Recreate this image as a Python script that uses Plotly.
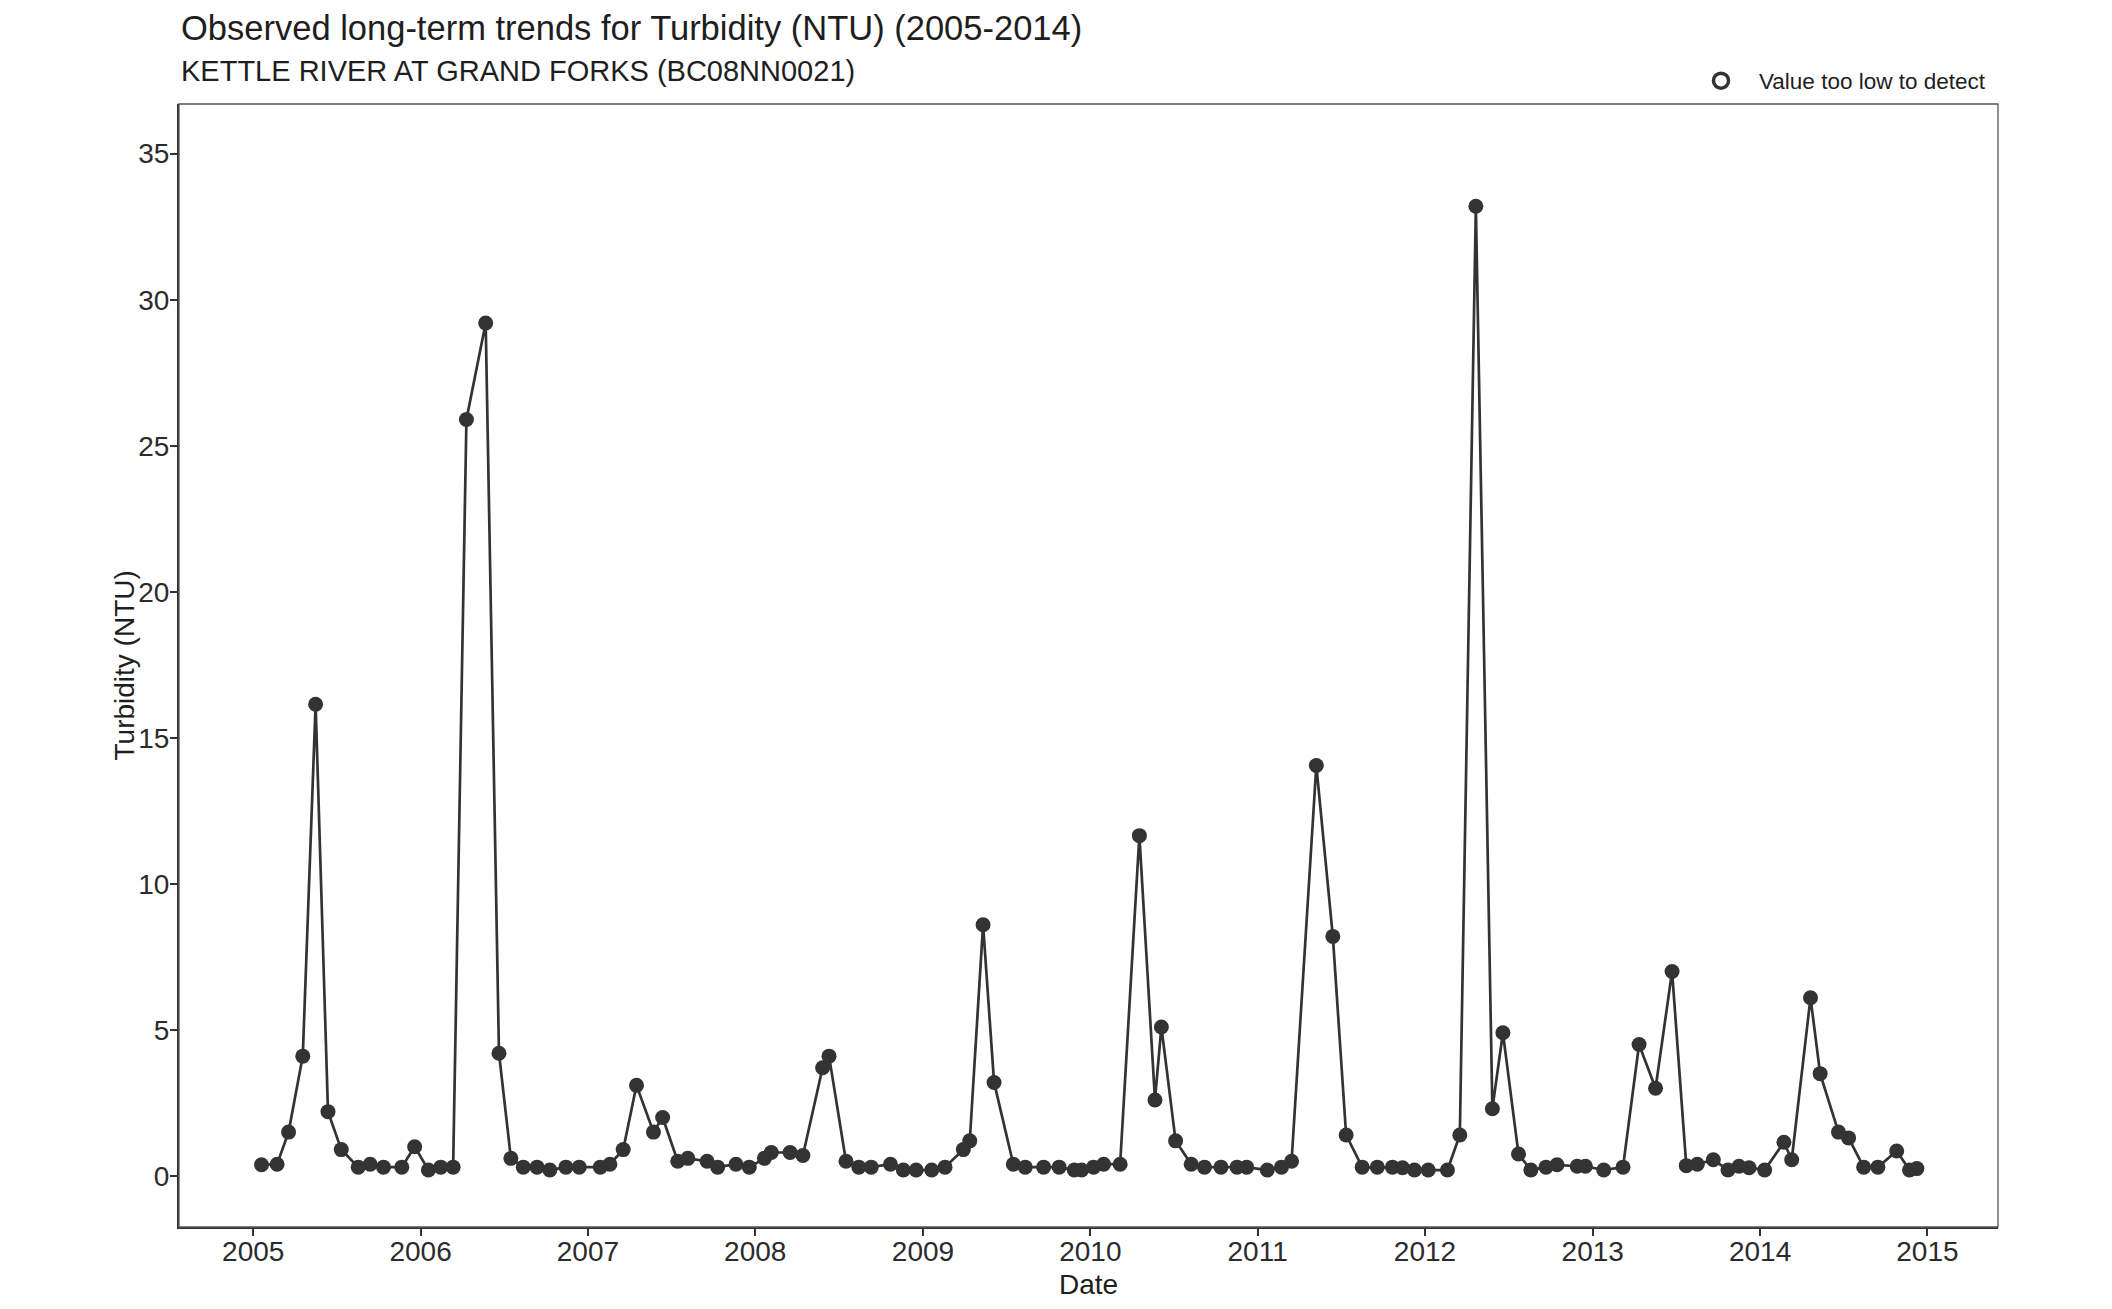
import plotly.graph_objects as go

dates = [
    "2005-01-19", "2005-02-22", "2005-03-19", "2005-04-19", "2005-05-17", "2005-06-13",
    "2005-07-12", "2005-08-18", "2005-09-13", "2005-10-12", "2005-11-21", "2005-12-19",
    "2006-01-18", "2006-02-14", "2006-03-13", "2006-04-11", "2006-05-23", "2006-06-21",
    "2006-07-17", "2006-08-13", "2006-09-12", "2006-10-10", "2006-11-14", "2006-12-13",
    "2007-01-28", "2007-02-18", "2007-03-19", "2007-04-17", "2007-05-24", "2007-06-13",
    "2007-07-16", "2007-08-07", "2007-09-18", "2007-10-11", "2007-11-20", "2007-12-19",
    "2008-01-21", "2008-02-05", "2008-03-17", "2008-04-14", "2008-05-27", "2008-06-10",
    "2008-07-17", "2008-08-14", "2008-09-10", "2008-10-22", "2008-11-19", "2008-12-17",
    "2009-01-20", "2009-02-18", "2009-03-30", "2009-04-13", "2009-05-12", "2009-06-05",
    "2009-07-17", "2009-08-12", "2009-09-21", "2009-10-25", "2009-11-27", "2009-12-13",
    "2010-01-08", "2010-01-30", "2010-03-07", "2010-04-18", "2010-05-22", "2010-06-05",
    "2010-07-06", "2010-08-09", "2010-09-07", "2010-10-13", "2010-11-17", "2010-12-08",
    "2011-01-22", "2011-02-22", "2011-03-16", "2011-05-09", "2011-06-14", "2011-07-13",
    "2011-08-17", "2011-09-19", "2011-10-22", "2011-11-13", "2011-12-09",
    "2012-01-08", "2012-02-19", "2012-03-17", "2012-04-21", "2012-05-27", "2012-06-19",
    "2012-07-23", "2012-08-19", "2012-09-21", "2012-10-15", "2012-11-28", "2012-12-16",
    "2013-01-25", "2013-03-08", "2013-04-12", "2013-05-18", "2013-06-23", "2013-07-24",
    "2013-08-17", "2013-09-21", "2013-10-23", "2013-11-16", "2013-12-08",
    "2014-01-11", "2014-02-22", "2014-03-11", "2014-04-21", "2014-05-12", "2014-06-21",
    "2014-07-13", "2014-08-15", "2014-09-15", "2014-10-26", "2014-11-23", "2014-12-09",
]

turbidity = [
    0.38, 0.4, 1.5, 4.1, 16.15, 2.2,
    0.9, 0.3, 0.4, 0.3, 0.3, 1.0,
    0.2, 0.3, 0.3, 25.9, 29.2, 4.2,
    0.6, 0.3, 0.3, 0.2, 0.3, 0.3,
    0.3, 0.4, 0.9, 3.1, 1.5, 2.0,
    0.5, 0.6, 0.5, 0.3, 0.4, 0.3,
    0.6, 0.8, 0.8, 0.7, 3.7, 4.1,
    0.5, 0.3, 0.3, 0.4, 0.2, 0.2,
    0.2, 0.3, 0.9, 1.2, 8.6, 3.2,
    0.4, 0.3, 0.3, 0.3, 0.2, 0.2,
    0.3, 0.4, 0.4, 11.65, 2.6, 5.1,
    1.2, 0.4, 0.3, 0.3, 0.3, 0.3,
    0.2, 0.3, 0.5, 14.05, 8.2, 1.4,
    0.3, 0.3, 0.3, 0.28, 0.2,
    0.2, 0.2, 1.4, 33.2, 2.3, 4.9,
    0.75, 0.2, 0.3, 0.38, 0.33, 0.33,
    0.2, 0.3, 4.5, 3.0, 7.0, 0.35,
    0.4, 0.55, 0.2, 0.33, 0.28,
    0.2, 1.15, 0.55, 6.1, 3.5, 1.5,
    1.3, 0.3, 0.3, 0.85, 0.2, 0.25,
]

year_ticks = ["2005-01-01", "2006-01-01", "2007-01-01", "2008-01-01", "2009-01-01", "2010-01-01",
              "2011-01-01", "2012-01-01", "2013-01-01", "2014-01-01", "2015-01-01"]
year_labels = ["2005", "2006", "2007", "2008", "2009", "2010", "2011", "2012", "2013", "2014", "2015"]
y_ticks = [0, 5, 10, 15, 20, 25, 30, 35]

title_text = "Observed long-term trends for Turbidity (NTU) (2005-2014)"
subtitle_text = "KETTLE RIVER AT GRAND FORKS (BC08NN0021)"
x_title = "Date"
y_title = "Turbidity (NTU)"
legend_label = "Value too low to detect"

W, H = 2112, 1309
ML, MR, MT, MB = 179, 114, 104, 82
PW, PH = W - ML - MR, H - MT - MB

ink = "#333333"
txt = "#1e1e1e"
font_family = "Liberation Sans, Arial, sans-serif"

fig = go.Figure()
fig.add_trace(go.Scatter(
    x=dates, y=turbidity, mode="lines+markers",
    line=dict(color=ink, width=2.7),
    marker=dict(color=ink, size=15, line=dict(width=0)),
    showlegend=False, hoverinfo="skip",
))
fig.add_trace(go.Scatter(
    x=[None], y=[None], mode="markers", name=legend_label,
    marker=dict(symbol="circle-open", color=ink, size=15, line=dict(width=3.5, color=ink)),
    showlegend=True,
))

fig.update_layout(
    width=W, height=H,
    margin=dict(l=ML, r=MR, t=MT, b=MB),
    paper_bgcolor="white", plot_bgcolor="white",
    font=dict(family=font_family, color=txt),
    annotations=[
        dict(text=title_text, xref="paper", yref="paper", x=0, y=1 + (MT - 28) / PH,
             xanchor="left", yanchor="middle", showarrow=False,
             font=dict(size=34.5, color=txt, family=font_family)),
        dict(text=subtitle_text, xref="paper", yref="paper", x=0, y=1 + (MT - 71) / PH,
             xanchor="left", yanchor="middle", showarrow=False,
             font=dict(size=29, color=txt, family=font_family)),
        dict(text=x_title, xref="paper", yref="paper", x=0.5, y=-(1284 - (H - MB)) / PH,
             xanchor="center", yanchor="middle", showarrow=False,
             font=dict(size=28, color=txt, family=font_family)),
        dict(text=y_title, xref="paper", yref="paper", x=-(ML - 124) / PW, y=0.5,
             xanchor="center", yanchor="middle", showarrow=False, textangle=-90,
             font=dict(size=28, color=txt, family=font_family)),
    ],
    legend=dict(x=1 - 7 / PW, xanchor="right", y=1 + 23 / PH, yanchor="middle",
                font=dict(size=22.5, color=txt), bgcolor="rgba(0,0,0,0)", itemwidth=66),
    shapes=[dict(type="rect", xref="paper", yref="paper", x0=0, x1=1, y0=0, y1=1,
                 line=dict(color="#555555", width=1.3), layer="above")],
)

fig.update_xaxes(
    range=["2004-07-23", "2015-06-04"], tickvals=year_ticks, ticktext=year_labels,
    showgrid=False, zeroline=False, showline=True, linecolor=ink, linewidth=2.2,
    ticks="outside", ticklen=7, tickwidth=2, tickcolor=ink, ticklabelstandoff=-9,
    tickfont=dict(size=28, color="#2b2b2b"),
)
fig.update_yaxes(
    range=[-1.75, 36.7], tickvals=y_ticks,
    showgrid=False, zeroline=False, showline=True, linecolor=ink, linewidth=2.2,
    ticks="outside", ticklen=7, tickwidth=2, tickcolor=ink, ticklabelstandoff=-5,
    tickfont=dict(size=28, color="#2b2b2b"),
)

fig.write_html("out.html", config={"displayModeBar": False},
               post_script="document.body.style.margin='0';document.body.style.overflow='hidden';")
